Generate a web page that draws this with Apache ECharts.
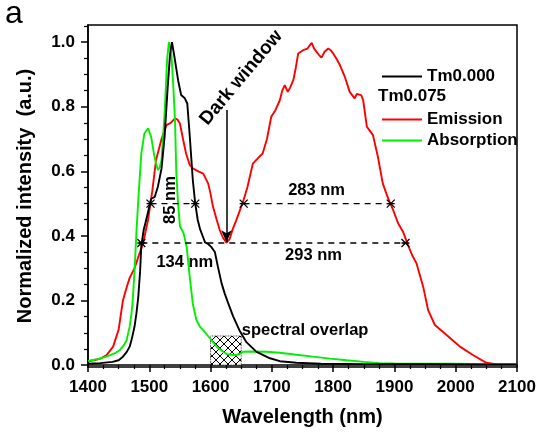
<!DOCTYPE html>
<html><head><meta charset="utf-8">
<script src="https://cdn.jsdelivr.net/npm/echarts@6/dist/echarts.min.js"></script>
<style>html,body{margin:0;padding:0;background:#fff}#c{width:544px;height:433px}</style>
</head><body><div id="c"></div>
<script>
// ---- data ----
const blackX = [1400,1420,1440,1450,1457,1463,1468,1472,1476,1479,1482,1485,1487,1491,1495,1500,1503,1509,1514,1520,1525,1530,1534,1537,1541,1547,1552,1558,1562,1566,1571,1575,1579,1583,1588,1591,1596,1601,1607,1612,1618,1623,1629,1637,1647,1658,1675,1697,1713,1740,1780,1850,1950,2050,2100];
const blackY = [0.004,0.006,0.01,0.015,0.026,0.04,0.057,0.085,0.12,0.16,0.21,0.29,0.37,0.42,0.45,0.49,0.515,0.521,0.552,0.609,0.707,0.86,0.965,1.0,0.955,0.882,0.836,0.826,0.81,0.71,0.573,0.5,0.45,0.42,0.395,0.38,0.375,0.366,0.35,0.304,0.253,0.222,0.19,0.15,0.108,0.072,0.041,0.021,0.012,0.007,0.004,0.003,0.003,0.002,0.002];
const redX = [1400,1410,1420,1430,1441,1450,1457,1463,1468,1476,1483,1490,1498,1505,1511,1520,1528,1535,1542,1546,1550,1555,1560,1566,1571,1580,1588,1596,1600,1604,1610,1615,1620,1626,1631,1636,1642,1648,1653,1660,1669,1677,1685,1692,1699,1706,1713,1717,1721,1726,1730,1735,1739,1743,1751,1758,1765,1769,1773,1777,1781,1786,1792,1796,1800,1805,1811,1819,1827,1835,1839,1842,1846,1849,1855,1860,1865,1873,1881,1887,1892,1898,1906,1914,1922,1929,1936,1947,1955,1966,1979,1993,2007,2028,2050,2065,2080,2100];
const redY = [0.012,0.015,0.02,0.03,0.057,0.11,0.2,0.24,0.27,0.3,0.34,0.377,0.45,0.54,0.635,0.7,0.743,0.75,0.764,0.76,0.748,0.7,0.655,0.62,0.609,0.6,0.593,0.5625,0.53,0.49,0.45,0.418,0.395,0.379,0.39,0.42,0.449,0.48,0.506,0.55,0.624,0.64,0.655,0.7,0.769,0.79,0.82,0.85,0.867,0.846,0.86,0.882,0.92,0.965,0.975,0.98,0.998,0.98,0.97,0.96,0.952,0.97,0.98,0.975,0.965,0.95,0.929,0.893,0.846,0.826,0.84,0.846,0.835,0.82,0.738,0.725,0.712,0.645,0.5625,0.53,0.506,0.48,0.439,0.413,0.372,0.34,0.315,0.242,0.17,0.124,0.103,0.08,0.057,0.031,0.007,0.003,0.002,0.002];
const greenX = [1400,1415,1430,1445,1452,1458,1463,1468,1471,1473,1476,1479,1482,1487,1492,1498,1503,1508,1511,1514,1517,1520,1525,1529,1532,1536,1539,1542,1544,1547,1550,1556,1561,1566,1571,1577,1583,1588,1599,1610,1620,1626,1634,1642,1648,1653,1670,1691,1713,1740,1767,1795,1822,1850,1876,1900,1950,2000,2050,2100];
const greenY = [0.013,0.018,0.026,0.038,0.046,0.06,0.077,0.119,0.16,0.2,0.294,0.41,0.51,0.655,0.717,0.733,0.707,0.65,0.624,0.604,0.612,0.635,0.779,0.944,1.0,0.965,0.87,0.758,0.6,0.5,0.43,0.408,0.366,0.273,0.19,0.139,0.118,0.108,0.083,0.057,0.042,0.034,0.032,0.031,0.035,0.041,0.042,0.041,0.038,0.032,0.026,0.02,0.015,0.01,0.006,0.005,0.004,0.004,0.003,0.002];
const seriesNames = ['Tm0.000','Emission','Absorption'];
const legendHeader = 'Tm0.075';
const yTickValues = [0,0.2,0.4,0.6,0.8,1.0];
const yMinorValues = [0.05,0.1,0.15,0.25,0.3,0.35,0.45,0.5,0.55,0.65,0.7,0.75,0.85,0.9,0.95,1.05];
// annotation data (data units): [x1, x2, y]
const halfMaxLines = [[1502,1575,0.5],[1654,1894,0.5],[1487,1918,0.378]];
const darkArrow = [1626,0.79,0.38];
const overlapBox = [1600,1650,0,0.09];
const annoTexts = [
  {text:'Dark window', x:1650, y:0.89, rot:50, size:19},
  {text:'85 nm', x:1535, y:0.511, rot:90, size:16.5},
  {text:'134 nm', x:1558, y:0.317, rot:0, size:16.5},
  {text:'293 nm', x:1768, y:0.34, rot:0, size:16.5},
  {text:'283 nm', x:1773, y:0.542, rot:0, size:16.5},
  {text:'spectral overlap', x:1651, y:0.108, rot:0, size:16.5, align:'left'}
];

// ---- chart ----
const FONT = '"Liberation Sans", Arial, sans-serif';
const zip = (xs, ys) => xs.map((x, i) => [x, ys[i]]);
const chart = echarts.init(document.getElementById('c'), null, {renderer:'canvas'});

const hatch = document.createElement('canvas');
hatch.width = 8; hatch.height = 8;
(function(){const g = hatch.getContext('2d'); g.fillStyle='#fff'; g.fillRect(0,0,8,8);
 g.strokeStyle='#000'; g.lineWidth=1; g.beginPath(); g.moveTo(0,0); g.lineTo(8,8); g.moveTo(8,0); g.lineTo(0,8); g.stroke();})();

const axisTxt = {fontSize:17, fontWeight:'bold', color:'#000', fontFamily:FONT};
const crossSym = 'path://M0,0L10,10M10,0L0,10M0,5L10,5';

const dashSeries = halfMaxLines.map((l, i) => ({
  type:'line', name:'hm'+i, data:[[l[0], l[2]], [l[1], l[2]]],
  symbol:crossSym, symbolSize:8, showSymbol:true,
  itemStyle:{color:'rgba(0,0,0,0)', borderColor:'#000', borderWidth:1.3},
  lineStyle:{color:'#000', width:1.4, type:[6,5]}, z:5, silent:true,
  markLine: i === 0 ? {
    silent:true, symbol:['none','arrow'], symbolSize:[8,12],
    label:{show:false}, lineStyle:{color:'#000', width:1.5, type:'solid'},
    data:[[{coord:[darkArrow[0], darkArrow[1]]}, {coord:[darkArrow[0], darkArrow[2]]}]]
  } : undefined,
  markArea: i === 0 ? {
    silent:true,
    itemStyle:{color:{image:hatch, repeat:'repeat'}, borderColor:'#000', borderWidth:0.8, borderType:'dotted'},
    data:[[{coord:[overlapBox[0], overlapBox[2]]}, {coord:[overlapBox[1], overlapBox[3]]}]]
  } : undefined
}));

const option = {
  animation:false,
  backgroundColor:'#fff',
  grid:{left:88, right:27, top:25, bottom:66, show:true, borderColor:'#000', borderWidth:1.5, backgroundColor:'transparent'},
  xAxis:{type:'value', min:1400, max:2100, interval:100,
    axisLine:{show:true, lineStyle:{color:'#000', width:1.5}},
    axisTick:{show:true, length:7, lineStyle:{color:'#000', width:1.5}},
    minorTick:{show:true, splitNumber:4, length:4, lineStyle:{color:'#000', width:1.2}},
    axisLabel:Object.assign({margin:12, formatter:v => String(v)}, axisTxt),
    splitLine:{show:false}, minorSplitLine:{show:false},
    name:'Wavelength (nm)', nameLocation:'middle', nameGap:40,
    nameTextStyle:{fontSize:20, fontWeight:'bold', color:'#000', fontFamily:FONT}},
  yAxis:[{type:'value', min:-0.006, max:1.053, position:'left',
    axisLine:{show:true, lineStyle:{color:'#000', width:1.5}},
    axisTick:{show:true, length:7, customValues:yTickValues, lineStyle:{color:'#000', width:1.5}},
    axisLabel:Object.assign({margin:13, customValues:yTickValues, formatter:v => Number(v).toFixed(1)}, axisTxt),
    splitLine:{show:false},
    name:'Normalized intensity  (a.u.)', nameLocation:'middle', nameGap:53,
    nameTextStyle:{fontSize:20, fontWeight:'bold', color:'#000', fontFamily:FONT}},
   {type:'value', min:-0.006, max:1.053, position:'left', offset:0,
    axisLine:{show:false}, axisLabel:{show:false}, splitLine:{show:false},
    axisTick:{show:true, length:4, customValues:yMinorValues, lineStyle:{color:'#000', width:1.2}}}],
  legend:[
    {data:[seriesNames[0]], left:377, top:63, icon:'rect', itemWidth:40, itemHeight:2, itemGap:6,
     selectedMode:false, textStyle:axisTxt},
    {data:[seriesNames[1], seriesNames[2]], orient:'vertical', left:377, top:106, icon:'rect',
     itemWidth:40, itemHeight:2, itemGap:4, selectedMode:false, textStyle:axisTxt}
  ],
  series:[
    {type:'line', name:seriesNames[1], data:zip(redX, redY), symbol:'none', color:'#ff0000',
     lineStyle:{width:1.9, color:'#ff0000'}, z:2},
    {type:'line', name:seriesNames[2], data:zip(greenX, greenY), symbol:'none', color:'#00f000',
     lineStyle:{width:1.9, color:'#00f000'}, z:3},
    {type:'line', name:seriesNames[0], data:zip(blackX, blackY), symbol:'none', color:'#000',
     lineStyle:{width:1.9, color:'#000'}, z:4}
  ].concat(dashSeries)
};
chart.setOption(option);

const gfx = annoTexts.map(t => {
  const p = chart.convertToPixel({xAxisIndex:0, yAxisIndex:0}, [t.x, t.y]);
  return {type:'text', x:p[0], y:p[1], rotation:t.rot * Math.PI / 180, z:50,
    style:{text:t.text, fill:'#000', font:'bold ' + t.size + 'px ' + FONT,
      align:t.align || 'center', verticalAlign:'middle'}};
});
gfx.push({type:'text', x:378, y:96, z:50, style:{text:legendHeader, fill:'#000', font:'bold 17px ' + FONT, align:'left', verticalAlign:'middle'}});
gfx.push({type:'text', x:5, y:14, z:50, style:{text:'a', fill:'#000', font:'32px ' + FONT, align:'left', verticalAlign:'middle'}});
chart.setOption({graphic:gfx});
</script></body></html>
